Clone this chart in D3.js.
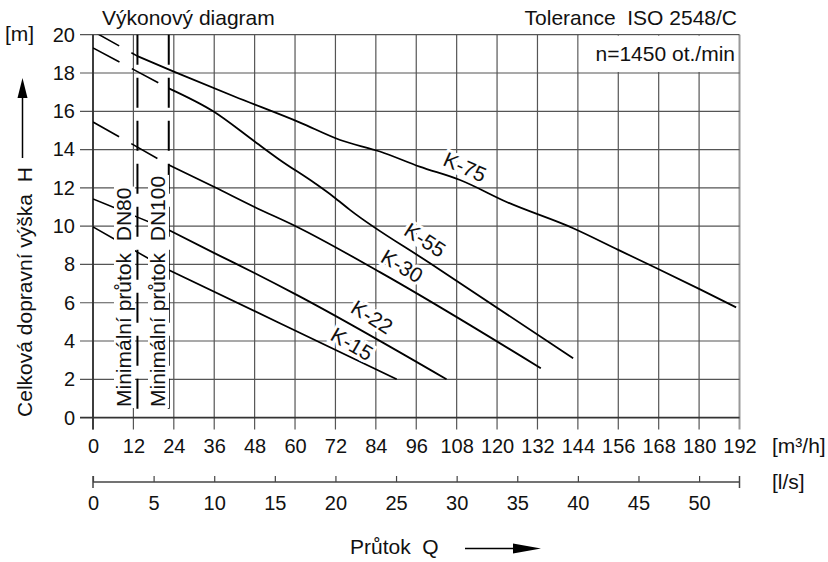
<!DOCTYPE html>
<html>
<head>
<meta charset="utf-8">
<script src="https://cdn.jsdelivr.net/npm/d3@7"></script>
<style>
body { margin: 0; background: #fff; }
text { font-family: "Liberation Sans", Arial, sans-serif; fill: #111; white-space: pre; }
</style>
</head>
<body>
<div id="chart"></div>
<script>
var svgWidth = 828;
var svgHeight = 562;

// tick values
var flowTicksM3h = [0, 12, 24, 36, 48, 60, 72, 84, 96, 108, 120, 132, 144, 156, 168, 180, 192];
var flowTicksLs = [0, 5, 10, 15, 20, 25, 30, 35, 40, 45, 50];
var headTicks = [0, 2, 4, 6, 8, 10, 12, 14, 16, 18, 20];

// minimum flow lines (m3/h)
var minFlowNames = ["Minimální průtok  DN80", "Minimální průtok  DN100"];
var minFlowValues = [13.2, 22.5];

// pump curves [Q m3/h, H m]
var curveNames = ["K-75", "K-55", "K-30", "K-22", "K-15"];
var curveStartFlow = [13.2, 22.5, 22.5, 22.5, 22.5];
var k75 = [[0, 20.18], [13.2, 18.88], [24, 18.07], [42, 16.77], [61.5, 15.41], [73.4, 14.5], [85.2, 13.9],
           [97, 13.11], [109, 12.41], [123, 11.25], [142.6, 9.89], [156, 8.76], [167.4, 7.8], [180.3, 6.7], [191, 5.76]];
var k55 = [[0, 19.31], [22.5, 17.2], [35.7, 16.0], [48.1, 14.41], [55.5, 13.46], [65.9, 12.24], [71.4, 11.54],
           [76.3, 10.85], [100.1, 8.06], [142.6, 3.1]];
var k30 = [[0, 15.44], [22.5, 13.2], [36.2, 12.03], [48.1, 10.99], [60.5, 9.97], [85.2, 7.6], [133, 2.58]];
var k22 = [[0, 11.42], [22.5, 9.8], [36.2, 8.58], [48.1, 7.54], [60.5, 6.41], [105, 2.0]];
var k15 = [[0, 9.96], [22.5, 7.71], [55.5, 4.93], [90.2, 2.0]];
var curveData = [k75, k55, k30, k22, k15];

// label placement
var labelPos = [[465, 167], [425, 240], [402, 266], [372, 317], [352, 344]];
var labelAngle = [24, 33, 31, 32, 30];

var svg = d3.select("#chart")
    .append("svg")
    .attr("width", svgWidth)
    .attr("height", svgHeight);

var x = d3.scaleLinear().domain([0, 192]).range([93, 739.5]);
var xLs = d3.scaleLinear().domain([0, 192 / 3.6]).range([93, 739.5]);
var y = d3.scaleLinear().domain([0, 20]).range([417.6, 34.7]);

svg.append("defs").append("clipPath")
    .attr("id", "plotClip")
    .append("rect")
    .attr("x", x(0)).attr("y", y(20))
    .attr("width", x(192) - x(0)).attr("height", y(0) - y(20));

// grid
var grid = svg.append("g");
grid.selectAll(".vgrid")
    .data(flowTicksM3h)
    .enter()
    .append("line")
    .attr("x1", d => x(d)).attr("x2", d => x(d))
    .attr("y1", y(0) + 12).attr("y2", y(20))
    .attr("stroke", d => d === 192 ? "#999" : "#555")
    .attr("stroke-width", d => d === 192 ? 2 : 1.2);

grid.selectAll(".hgrid")
    .data(headTicks)
    .enter()
    .append("line")
    .attr("x1", x(0) - 13).attr("x2", x(192))
    .attr("y1", d => y(d)).attr("y2", d => y(d))
    .attr("stroke", d => d === 0 ? "#333" : "#555")
    .attr("stroke-width", d => d === 0 ? 1.8 : 1.2);

grid.append("line")
    .attr("x1", x(0)).attr("x2", x(0))
    .attr("y1", y(0) + 12).attr("y2", y(20))
    .attr("stroke", "#333").attr("stroke-width", 1.8);

// speed box
svg.append("rect")
    .attr("x", x(144) + 1).attr("y", y(20) + 1)
    .attr("width", x(192) - x(144) - 2.5).attr("height", y(18) - y(20) - 2)
    .attr("fill", "#fff");

// axes labels
var bottomAxis = d3.axisBottom(x).tickValues(flowTicksM3h).tickSize(0);
var axisM3h = svg.append("g")
    .attr("transform", `translate(0, ${y(0)})`)
    .call(bottomAxis);
axisM3h.select(".domain").remove();
axisM3h.selectAll("text")
    .attr("y", 35).attr("dy", 0)
    .attr("font-size", 20)
    .attr("font-family", "Liberation Sans, Arial, sans-serif");

var leftAxis = d3.axisLeft(y).tickValues(headTicks).tickSize(0).tickPadding(18);
var axisH = svg.append("g")
    .attr("transform", `translate(${x(0)}, 0)`)
    .call(leftAxis);
axisH.select(".domain").remove();
axisH.selectAll("text")
    .attr("font-size", 20)
    .attr("font-family", "Liberation Sans, Arial, sans-serif");

// l/s axis
var lsY = 482;
var topAxis = d3.axisTop(xLs).tickValues(flowTicksLs).tickSize(6).tickSizeOuter(0);
var axisLs = svg.append("g")
    .attr("transform", `translate(0, ${lsY})`)
    .call(topAxis);
axisLs.select(".domain").remove();
axisLs.selectAll("line").attr("stroke", "#444").attr("stroke-width", 1.2);
axisLs.selectAll("text")
    .attr("y", 28).attr("dy", 0)
    .attr("font-size", 20)
    .attr("font-family", "Liberation Sans, Arial, sans-serif");
svg.append("line")
    .attr("x1", xLs(0)).attr("x2", xLs(192 / 3.6))
    .attr("y1", lsY).attr("y2", lsY)
    .attr("stroke", "#444").attr("stroke-width", 1.5);
svg.selectAll(".lsEnd")
    .data(xLs.domain())
    .enter()
    .append("line")
    .attr("x1", d => xLs(d)).attr("x2", d => xLs(d))
    .attr("y1", lsY - 6).attr("y2", lsY + 6)
    .attr("stroke", "#444").attr("stroke-width", 1.5);

// curves
var line = d3.line()
    .x(d => x(d[0]))
    .y(d => y(d[1]))
    .curve(d3.curveMonotoneX);

var curves = svg.append("g").attr("clip-path", "url(#plotClip)");
curveData.forEach(function(pts, i) {
    var start = curveStartFlow[i];
    curves.append("path")
        .attr("d", line(pts.filter(p => p[0] <= start)))
        .attr("fill", "none")
        .attr("stroke", "#000")
        .attr("stroke-width", 1.6)
        .attr("stroke-dasharray", "30,14");
    curves.append("path")
        .attr("d", line(pts.filter(p => p[0] >= start)))
        .attr("fill", "none")
        .attr("stroke", "#000")
        .attr("stroke-width", 1.8);
});

// minimum flow lines
svg.selectAll(".minflow")
    .data(minFlowValues)
    .enter()
    .append("line")
    .attr("x1", d => x(d)).attr("x2", d => x(d))
    .attr("y1", y(20)).attr("y2", y(0))
    .attr("stroke", "#000")
    .attr("stroke-width", 2)
    .attr("stroke-dasharray", "30,13");

var minTextX = [131, 165];
minFlowNames.forEach(function(t, i) {
    var g = svg.append("g")
        .attr("transform", `translate(${minTextX[i]}, 407) rotate(-90)`);
    var rect = g.append("rect").attr("fill", "#fff");
    var txt = g.append("text")
        .attr("font-size", 21)
        .text(t);
    var bb = txt.node().getBBox();
    rect.attr("x", bb.x - 1).attr("y", bb.y + 2)
        .attr("width", bb.width + 2).attr("height", bb.height - 2);
});

// curve labels
svg.selectAll(".clabel")
    .data(curveNames)
    .enter()
    .append("text")
    .attr("transform", (d, i) => `translate(${labelPos[i][0]}, ${labelPos[i][1]}) rotate(${labelAngle[i]})`)
    .attr("text-anchor", "middle")
    .attr("dy", "0.35em")
    .attr("font-size", 21)
    .attr("stroke", "#fff")
    .attr("stroke-width", 6)
    .attr("paint-order", "stroke")
    .text(d => d);

// titles
svg.append("text").attr("x", 102).attr("y", 25).attr("font-size", 21).text("Výkonový diagram");
svg.append("text").attr("x", 737).attr("y", 25).attr("font-size", 21)
    .attr("text-anchor", "end").text("Tolerance  ISO 2548/C");
svg.append("text").attr("x", 735).attr("y", 61).attr("font-size", 21)
    .attr("text-anchor", "end").text("n=1450 ot./min");
svg.append("text").attr("x", 5).attr("y", 41).attr("font-size", 21).text("[m]");
svg.append("text").attr("x", 772).attr("y", 453).attr("font-size", 21).text("[m³/h]");
svg.append("text").attr("x", 772).attr("y", 489).attr("font-size", 21).text("[l/s]");

// axis titles with arrows
svg.append("text")
    .attr("transform", "translate(31.5, 292) rotate(-90)")
    .attr("text-anchor", "middle")
    .attr("font-size", 21)
    .text("Celková dopravní výška  H");
svg.append("line")
    .attr("x1", 22.5).attr("x2", 22.5).attr("y1", 158).attr("y2", 96)
    .attr("stroke", "#000").attr("stroke-width", 1.5);
svg.append("path")
    .attr("d", "M22.5,78 L17.5,98 L27.5,98 Z")
    .attr("fill", "#000");

svg.append("text")
    .attr("x", 350).attr("y", 554)
    .attr("font-size", 21)
    .text("Průtok  Q");
svg.append("line")
    .attr("x1", 465).attr("x2", 523).attr("y1", 548.5).attr("y2", 548.5)
    .attr("stroke", "#000").attr("stroke-width", 1.5);
svg.append("path")
    .attr("d", "M541,548.5 L513,543.5 L513,553.5 Z")
    .attr("fill", "#000");
</script>
</body>
</html>
